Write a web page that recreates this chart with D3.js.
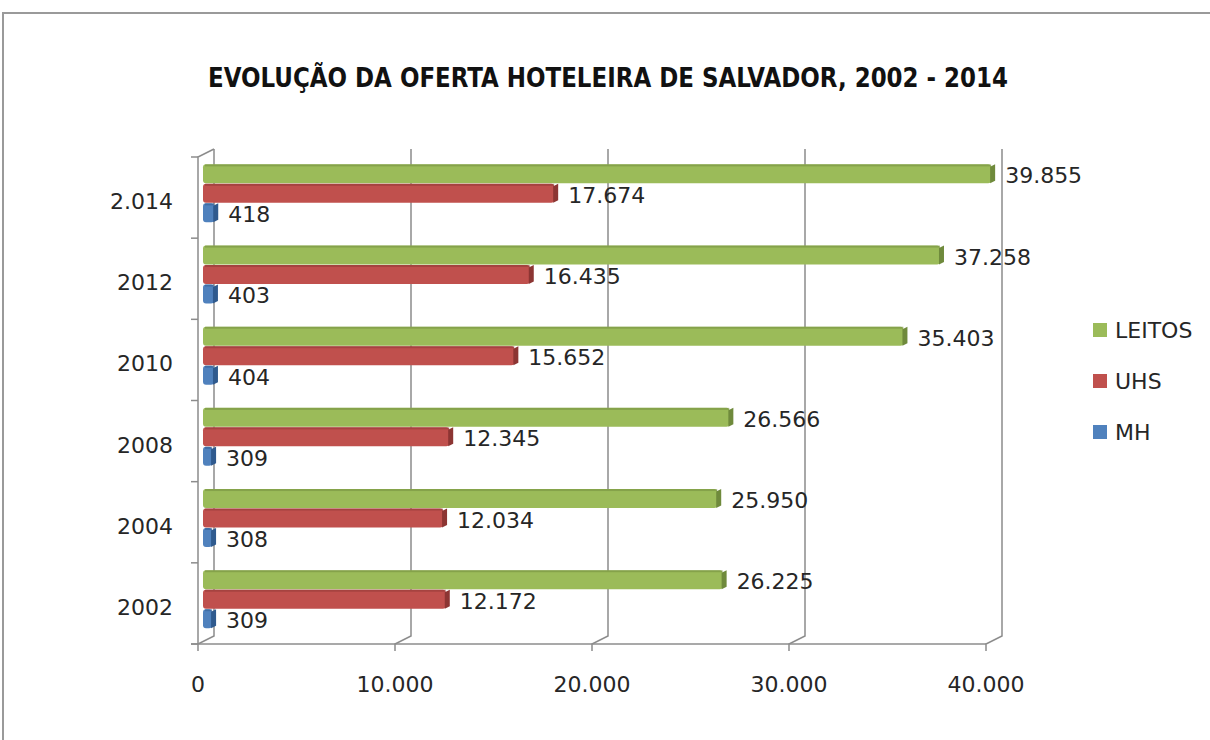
<!DOCTYPE html>
<html>
<head>
<meta charset="utf-8">
<script src="https://cdn.jsdelivr.net/npm/d3@7"></script>
<style>
  body { margin: 0; background: #fff; }
  svg { display: block; }
  text { font-family: "DejaVu Sans", sans-serif; fill: #262626; }
</style>
</head>
<body>
<div id="chart"></div>
<script>
// data
const years = ["2.014", "2012", "2010", "2008", "2004", "2002"];
const series = ["LEITOS", "UHS", "MH"];
const leitos = [39855, 37258, 35403, 26566, 25950, 26225];
const uhs = [17674, 16435, 15652, 12345, 12034, 12172];
const mh = [418, 403, 404, 309, 308, 309];
const xTicks = [0, 10000, 20000, 30000, 40000];

const colors = {LEITOS: "#9bbb59", UHS: "#c0504d", MH: "#4f81bd"};
const darks = {LEITOS: "#6f8a3c", UHS: "#8c3533", MH: "#2f5a8e"};

const width = 1210, height = 740;
const fmt = d3.formatLocale({decimal: ",", thousands: ".", grouping: [3], currency: ["", ""]}).format(",d");

const svg = d3.select("#chart")
  .append("svg")
    .attr("width", width)
    .attr("height", height);

// frame
svg.append("rect")
  .attr("x", 3).attr("y", 13)
  .attr("width", 1240).attr("height", 780)
  .attr("fill", "none")
  .attr("stroke", "#9a9a9a")
  .attr("stroke-width", 2);

// title
svg.append("text")
  .attr("x", 608).attr("y", 87)
  .attr("text-anchor", "middle")
  .attr("textLength", 800)
  .attr("lengthAdjust", "spacingAndGlyphs")
  .style("font-family", "'DejaVu Sans Condensed', 'Liberation Sans Narrow', sans-serif")
  .style("font-weight", "bold")
  .style("font-size", "26px")
  .style("fill", "#111")
  .text("EVOLUÇÃO DA OFERTA HOTELEIRA DE SALVADOR, 2002 - 2014");

// 3D offsets (front plane -> back plane)
const dx = 16, dy = -8;
const topY = 157, floorY = 644;

// scales (front plane)
const x = d3.scaleLinear().domain([0, 40000]).range([198, 986]);
const y = d3.scaleBand().domain(years).range([topY, floorY]);

// bars sit half way into depth
const yBar = d3.scaleBand().domain(years)
  .range([topY + dy / 2, floorY + dy / 2])
  .paddingInner(0.28).paddingOuter(0.14);
const ySub = d3.scaleBand().domain(series).range([0, yBar.bandwidth()]);
const xb = v => x(v) + dx / 2;

const grid = svg.append("g").attr("stroke", "#8c8c8c").attr("stroke-width", 1.5).attr("fill", "none");

// back wall gridlines with hook to the floor front
xTicks.forEach(t => {
  const xf = x(t), xk = x(t) + dx;
  grid.append("path")
    .attr("d", `M${xk},${topY + dy}L${xk},${floorY + dy}L${xf},${floorY}L${xf},${floorY + 7}`);
});

// floor front edge
grid.append("path").attr("d", `M${x(0) - 7},${floorY}L${x(40000)},${floorY}`);

// left side wall (category axis)
grid.append("path")
  .attr("d", `M${x(0)},${floorY}L${x(0)},${topY}L${x(0) + dx},${topY + dy}`);
years.concat(["end"]).forEach((c, i) => {
  const yy = topY + i * y.step();
  grid.append("path").attr("d", `M${x(0) - 7},${yy}L${x(0)},${yy}`);
});

// category labels
svg.append("g").selectAll("text")
  .data(years)
  .join("text")
    .attr("x", 173)
    .attr("y", d => y(d) + y.bandwidth() / 2 + 4)
    .attr("text-anchor", "end")
    .attr("dominant-baseline", "central")
    .style("font-size", "22px")
    .text(d => d);

// x tick labels
svg.append("g").selectAll("text")
  .data(xTicks)
  .join("text")
    .attr("x", d => x(d))
    .attr("y", 684)
    .attr("text-anchor", "middle")
    .attr("dominant-baseline", "central")
    .style("font-size", "22px")
    .text(d => fmt(d));

// bar rows
const rows = [];
years.forEach((yr, i) => {
  rows.push({year: yr, s: "LEITOS", v: leitos[i]});
  rows.push({year: yr, s: "UHS", v: uhs[i]});
  rows.push({year: yr, s: "MH", v: mh[i]});
});

const bars = svg.append("g").selectAll("g")
  .data(rows)
  .join("g")
    .attr("transform", d => `translate(0,${yBar(d.year) + ySub(d.s)})`);

const bh = ySub.bandwidth() - 0.5;
const capW = 5;

bars.append("rect")
  .attr("x", xb(0) - 3)
  .attr("y", 0)
  .attr("rx", 3)
  .attr("width", d => Math.max(xb(d.v) - xb(0) + 3, 6))
  .attr("height", bh)
  .attr("fill", d => colors[d.s]);

// top face
bars.append("rect")
  .attr("x", xb(0) - 1)
  .attr("y", 0)
  .attr("width", d => Math.max(xb(d.v) - xb(0) + 1, 2))
  .attr("height", 2)
  .attr("fill", d => darks[d.s])
  .attr("opacity", 0.5);

// end cap
bars.append("path")
  .attr("d", d => {
    const xe = xb(d.v) + capW - 1;
    return `M${xe - capW},${2.5}L${xe},${0}L${xe},${bh - 2.5}L${xe - capW},${bh}Z`;
  })
  .attr("fill", d => darks[d.s]);

// value labels
bars.append("text")
  .attr("x", d => xb(d.v) + capW + 9)
  .attr("y", bh / 2 + 2)
  .attr("dominant-baseline", "central")
  .style("font-size", "22px")
  .text(d => fmt(d.v));

// legend
const legend = svg.append("g").selectAll("g")
  .data(series)
  .join("g")
    .attr("transform", (d, i) => `translate(1093,${330 + i * 51})`);

legend.append("rect")
  .attr("x", 0).attr("y", -7)
  .attr("width", 14).attr("height", 14)
  .attr("fill", d => colors[d]);

legend.append("text")
  .attr("x", 22).attr("y", 0)
  .attr("dominant-baseline", "central")
  .style("font-size", "22px")
  .text(d => d);
</script>
</body>
</html>
